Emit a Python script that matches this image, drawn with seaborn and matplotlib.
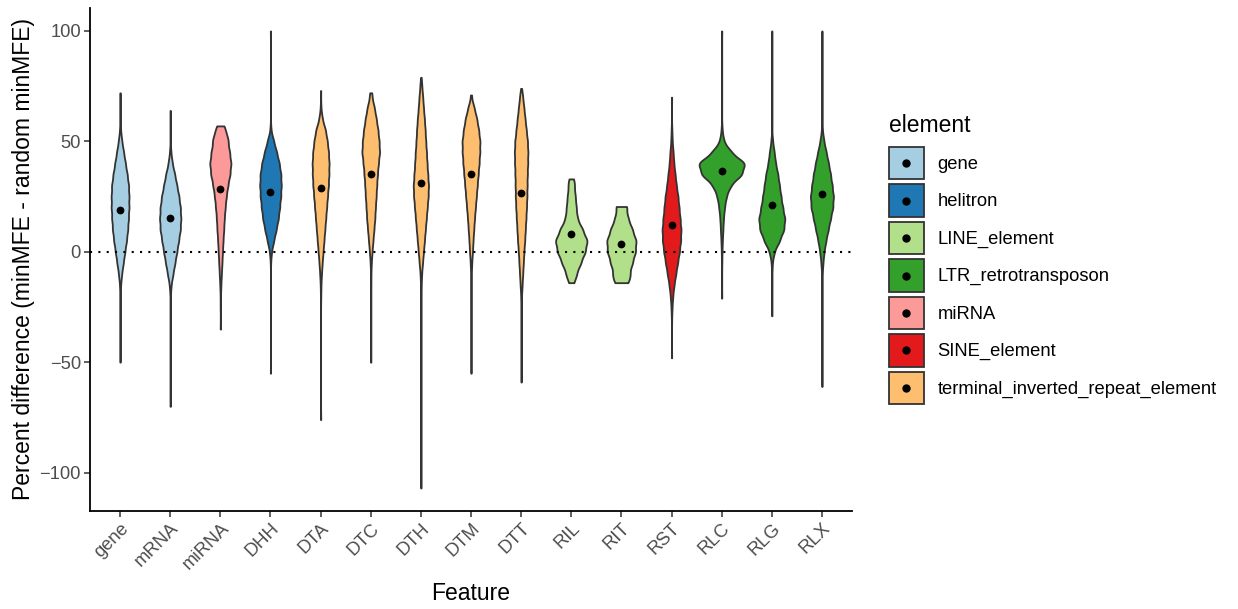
import numpy as np
import pandas as pd
import matplotlib
matplotlib.use("Agg")
import matplotlib.pyplot as plt
import seaborn as sns
from matplotlib.patches import Patch, Rectangle
from matplotlib.lines import Line2D
from matplotlib.legend_handler import HandlerBase

# ---------------- data ----------------
features = ["gene", "mRNA", "miRNA", "DHH", "DTA", "DTC", "DTH", "DTM", "DTT",
            "RIL", "RIT", "RST", "RLC", "RLG", "RLX"]
feature_element = ["gene", "gene", "miRNA", "helitron",
                   "terminal_inverted_repeat_element", "terminal_inverted_repeat_element",
                   "terminal_inverted_repeat_element", "terminal_inverted_repeat_element",
                   "terminal_inverted_repeat_element",
                   "LINE_element", "LINE_element", "SINE_element",
                   "LTR_retrotransposon", "LTR_retrotransposon", "LTR_retrotransposon"]
elements = ["gene", "helitron", "LINE_element", "LTR_retrotransposon", "miRNA",
            "SINE_element", "terminal_inverted_repeat_element"]
element_colors = ["#A6CEE3", "#1F78B4", "#B2DF8A", "#33A02C", "#FB9A99", "#E31A1C", "#FDBF6F"]

feature_means = [19.0, 15.5, 28.3, 27.2, 28.7, 35.2, 31.0, 35.2, 26.8, 8.1, 3.3, 12.3, 36.6, 21.0, 26.3]

# value levels and their (relative) frequencies
gene_values = [72, 55, 50, 45, 40, 35, 30, 25, 20, 15, 10, 5, 0, -5, -10, -15, -20, -50]
gene_counts = [1, 3, 10, 20, 30, 40, 48, 50, 50, 47, 43, 36, 27, 18, 9, 3, 1, 1]

mrna_values = [64, 45, 40, 35, 30, 25, 20, 15, 10, 5, 0, -5, -10, -15, -20, -70]
mrna_counts = [1, 4, 12, 26, 38, 50, 58, 61, 58, 48, 38, 27, 16, 5, 1, 1]

mirna_values = [57, 54, 50, 45, 40, 35, 30, 25, 20, 15, 10, 5, 0, -5, -10, -15, -20, -25, -35]
mirna_counts = [14, 22, 42, 52, 60, 54, 42, 33, 27, 22, 19, 15, 12, 9, 6, 3, 1, 1, 1]

dhh_values = [100, 55, 50, 45, 40, 35, 30, 25, 20, 15, 10, 5, 0, -5, -55]
dhh_counts = [1, 3, 20, 38, 54, 64, 66, 63, 56, 48, 35, 20, 6, 1, 1]

dta_values = [73, 65, 60, 55, 50, 45, 40, 35, 30, 25, 20, 15, 10, 5, 0, -5, -10, -15, -20, -76]
dta_counts = [1, 2, 10, 28, 38, 45, 48, 47, 44, 39, 34, 29, 24, 19, 14, 9, 5, 2, 1, 1]

dtc_values = [72, 70, 65, 60, 55, 50, 45, 40, 35, 30, 25, 20, 15, 10, 5, 0, -5, -10, -15, -50]
dtc_counts = [2, 6, 20, 30, 39, 45, 48, 41, 36, 32, 29, 25, 22, 17, 12, 7, 3, 1, 1, 1]

dth_values = [79, 75, 70, 65, 60, 55, 50, 45, 40, 35, 30, 25, 20, 15, 10, 5, 0, -5, -10, -15, -20, -107]
dth_counts = [1, 5, 10, 14, 19, 23, 26, 30, 33, 37, 41, 39, 34, 29, 24, 19, 14, 9, 4, 2, 1, 1]

dtm_values = [71, 65, 60, 55, 50, 45, 40, 35, 30, 25, 20, 15, 10, 5, 0, -5, -10, -15, -55]
dtm_counts = [3, 18, 32, 42, 49, 48, 44, 39, 34, 29, 24, 19, 15, 11, 8, 4, 2, 1, 1]

dtt_values = [74, 70, 65, 60, 55, 50, 45, 40, 35, 30, 25, 20, 15, 10, 5, 0, -5, -10, -15, -20, -25, -59]
dtt_counts = [1, 8, 14, 20, 26, 32, 34, 33, 31, 30, 29, 27, 24, 21, 18, 14, 11, 8, 5, 2, 1, 1]

ril_values = [33, 30, 25, 20, 15, 10, 5, 0, -5, -10, -14]
ril_counts = [8, 15, 22, 27, 33, 62, 88, 76, 52, 28, 10]

rit_values = [20.5, 15, 10, 5, 0, -5, -10, -14]
rit_counts = [34, 40, 64, 86, 82, 64, 46, 34]

rst_values = [70, 55, 50, 45, 40, 35, 30, 25, 20, 15, 10, 5, 0, -5, -10, -15, -20, -25, -30, -48]
rst_counts = [1, 2, 4, 9, 13, 20, 27, 36, 42, 48, 53, 51, 44, 34, 24, 14, 7, 3, 1, 1]

rlc_values = [100, 55, 50, 45, 40, 35, 30, 25, 20, 15, 10, 5, 0, -5, -21]
rlc_counts = [1, 3, 12, 55, 135, 115, 50, 26, 16, 10, 7, 4, 2, 1, 1]

rlg_values = [100, 50, 45, 40, 35, 30, 25, 20, 15, 10, 5, 0, -5, -10, -29]
rlg_counts = [1, 5, 14, 22, 35, 44, 53, 63, 76, 70, 45, 14, 3, 1, 1]

rlx_values = [100, 55, 50, 45, 40, 35, 30, 25, 20, 15, 10, 5, 0, -5, -10, -15, -61]
rlx_counts = [1, 3, 12, 26, 40, 52, 62, 70, 66, 52, 38, 24, 13, 6, 2, 1, 1]

feature_values = [gene_values, mrna_values, mirna_values, dhh_values, dta_values, dtc_values,
                  dth_values, dtm_values, dtt_values, ril_values, rit_values, rst_values,
                  rlc_values, rlg_values, rlx_values]
feature_counts = [gene_counts, mrna_counts, mirna_counts, dhh_counts, dta_counts, dtc_counts,
                  dth_counts, dtm_counts, dtt_counts, ril_counts, rit_counts, rst_counts,
                  rlc_counts, rlg_counts, rlx_counts]

frames = []
for feat, elem, vals, cnts in zip(features, feature_element, feature_values, feature_counts):
    v = np.repeat(np.asarray(vals, dtype=float), cnts)
    frames.append(pd.DataFrame({"feature": feat, "element": elem, "value": v}))
df = pd.concat(frames, ignore_index=True)

# ---------------- style ----------------
plt.rcParams["font.family"] = ["Liberation Sans", "DejaVu Sans"]

fig = plt.figure(figsize=(12.38, 6.09), dpi=100)
ax = fig.add_axes([90 / 1238, 1 - 511 / 609, (852 - 90) / 1238, (511 - 8) / 609])

BW = 2.5  # kernel bandwidth in data units
# no hue here, so all violins share one area normalisation (like ggplot scale="area")
sns.violinplot(data=df, x="feature", y="value", order=features, color="#CCCCCC",
               saturation=1, cut=0, inner=None, width=0.9, density_norm="area",
               gridsize=400, bw_method=lambda k: BW / np.std(k.dataset, ddof=1),
               linewidth=1.3, linecolor="#333333", ax=ax, zorder=2)

# colour each violin by its element
color_of = dict(zip(elements, element_colors))
for coll, elem in zip(list(ax.collections), feature_element):
    coll.set_facecolor(color_of[elem])

ax.axhline(0, color="black", ls=(0, (1, 3)), lw=1.5, zorder=4)

sns.stripplot(x=features, y=feature_means, order=features, color="black", size=5.6,
              jitter=False, ax=ax, zorder=6, legend=False, linewidth=0)

ax.set_xlim(-0.6, 14.6)
ax.set_ylim(-117.4, 110.4)
ax.set_yticks([-100, -50, 0, 50, 100])

for s in ["top", "right"]:
    ax.spines[s].set_visible(False)
for s in ["left", "bottom"]:
    ax.spines[s].set_linewidth(1.3)
    ax.spines[s].set_color("black")

ax.tick_params(axis="both", direction="out", length=4.1, width=1.1, color="#333333",
               labelcolor="#4D4D4D", labelsize=13.2, pad=2.4)
plt.setp(ax.get_xticklabels(), rotation=45, ha="right", va="top", rotation_mode="anchor")

ax.set_xlabel("Feature", fontsize=16.5, color="black", labelpad=6)
ax.set_ylabel("Percent difference (minMFE - random minMFE)", fontsize=16.5,
              color="black", labelpad=3)


class DotOnBox(HandlerBase):
    """ggplot-like violin key: filled square with a centred black dot."""
    def create_artists(self, legend, orig_handle, xdescent, ydescent, width, height,
                       fontsize, trans):
        rect = Rectangle((-xdescent, -ydescent), width, height,
                         facecolor=orig_handle.get_facecolor(), edgecolor="#333333",
                         lw=1.3, transform=trans)
        dot = Line2D([-xdescent + width / 2], [-ydescent + height / 2], marker="o",
                     markersize=5.0, color="black", ls="None", transform=trans)
        return [rect, dot]


handles = [Patch(facecolor=c) for c in element_colors]
fig.legend(handles, elements, handler_map={Patch: DotOnBox()},
           loc="upper left", bbox_to_anchor=(889 / 1238, 1 - 147 / 609),
           frameon=False, fontsize=13.2,
           handlelength=1.9, handleheight=2.35, labelspacing=0.27, handletextpad=0.75,
           borderpad=0, borderaxespad=0)
fig.text(889 / 1238, 1 - 132 / 609, "element", fontsize=16.5, color="black",
         ha="left", va="baseline")

fig.savefig("out.png", dpi=100)
